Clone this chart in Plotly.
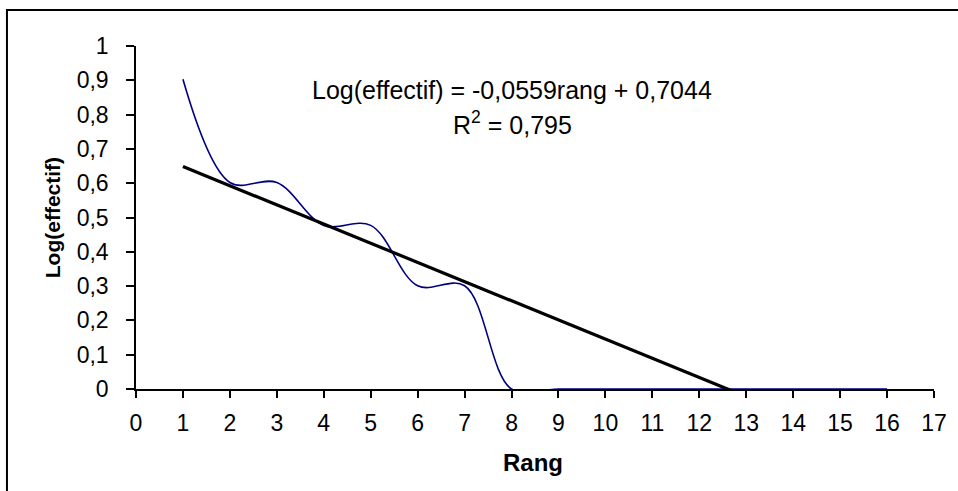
import plotly.graph_objects as go

# Data
rang = list(range(1, 17))
log_effectif = [0.903, 0.602, 0.602, 0.477, 0.477, 0.301, 0.301, 0.0,
                0.0, 0.0, 0.0, 0.0, 0.0, 0.0, 0.0, 0.0]
slope = -0.0559
intercept = 0.7044
r2_text = "0,795"
x_ticks = list(range(0, 18))
y_ticks = [0, 0.1, 0.2, 0.3, 0.4, 0.5, 0.6, 0.7, 0.8, 0.9, 1]
y_tick_labels = ["0", "0,1", "0,2", "0,3", "0,4", "0,5", "0,6", "0,7", "0,8", "0,9", "1"]

trend_x = [rang[0], rang[-1]]
trend_y = [slope * x + intercept for x in trend_x]

FONT = "Arial, Liberation Sans, sans-serif"
TICKFONT = dict(family=FONT, size=23, color="black")

fig = go.Figure()
fig.add_trace(go.Scatter(
    x=rang, y=log_effectif, mode="lines",
    line=dict(color="#000080", width=1.6, shape="spline", smoothing=1.0),
    showlegend=False, hoverinfo="skip"))
fig.add_trace(go.Scatter(
    x=trend_x, y=trend_y, mode="lines",
    line=dict(color="black", width=3.2),
    showlegend=False, hoverinfo="skip"))

fig.update_layout(
    width=958, height=491,
    margin=dict(l=136, r=24, t=46, b=102, pad=0),
    paper_bgcolor="white", plot_bgcolor="white",
    font=dict(family=FONT, size=22, color="black"),
    showlegend=False,
    xaxis=dict(range=[0, 17], tickvals=x_ticks, ticktext=[str(v) for v in x_ticks],
               tickfont=TICKFONT, tickangle=0,
               showgrid=False, zeroline=False, showline=True, linecolor="black",
               linewidth=1.5, ticks="outside", ticklen=7, tickwidth=1.5,
               tickcolor="black", ticklabelstandoff=6, layer="below traces",
               fixedrange=True),
    yaxis=dict(range=[0, 1], tickvals=y_ticks, ticktext=y_tick_labels,
               tickfont=TICKFONT,
               showgrid=False, zeroline=False, showline=True, linecolor="black",
               linewidth=1.5, ticks="outside", ticklen=8, tickwidth=1.5,
               tickcolor="black", ticklabelstandoff=13, layer="below traces",
               fixedrange=True),
    shapes=[dict(type="rect", xref="paper", yref="paper",
                 x0=-0.1617, x1=1.05, y0=-0.35, y1=1.105,
                 line=dict(color="black", width=2), layer="below")],
    annotations=[
        dict(x=8.0, y=0.873, xref="x", yref="y", xanchor="center", yanchor="middle",
             text="Log(effectif) = -0,0559rang + 0,7044",
             showarrow=False, font=dict(size=25)),
        dict(x=8.02, y=0.776, xref="x", yref="y", xanchor="center", yanchor="middle",
             text="R<sup>2</sup> = " + r2_text,
             showarrow=False, font=dict(size=25)),
        dict(x=0.4975, y=-0.213, xref="paper", yref="paper",
             xanchor="center", yanchor="middle",
             text="<b>Rang</b>", showarrow=False, font=dict(size=24)),
        dict(x=-0.105, y=0.4985, xref="paper", yref="paper", textangle=-90,
             xanchor="center", yanchor="middle",
             text="<b>Log(effectif)</b>", showarrow=False, font=dict(size=21)),
    ],
)

fig.write_html("out.html")
